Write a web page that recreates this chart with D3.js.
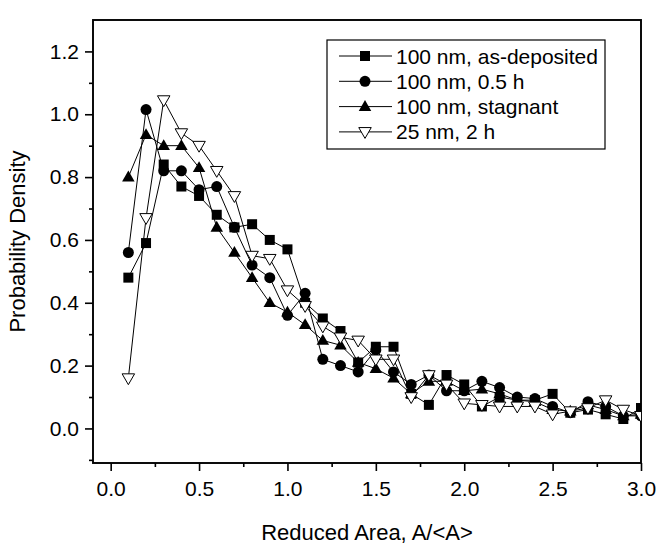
<!DOCTYPE html>
<html><head><meta charset="utf-8">
<script src="https://cdn.jsdelivr.net/npm/d3@7"></script>
<style>
html,body{margin:0;padding:0;background:#fff;}
svg{display:block;font-family:"Liberation Sans",Arial,Helvetica,sans-serif;}
</style></head>
<body>
<svg id="chart" width="659" height="544"></svg>
<script>
const xValues = [0.1,0.2,0.3,0.4,0.5,0.6,0.7,0.8,0.9,1.0,1.1,1.2,1.3,1.4,1.5,1.6,1.7,1.8,1.9,2.0,2.1,2.2,2.3,2.4,2.5,2.6,2.7,2.8,2.9,3.0];
const asDeposited = [0.48,0.59,0.84,0.77,0.74,0.68,0.64,0.65,0.60,0.57,0.40,0.35,0.31,0.21,0.26,0.26,0.11,0.075,0.17,0.14,0.07,0.10,0.09,0.09,0.11,0.05,0.06,0.045,0.03,0.065];
const halfHour = [0.56,1.015,0.82,0.82,0.76,0.77,0.64,0.52,0.48,0.36,0.43,0.22,0.20,0.18,0.25,0.18,0.14,0.17,0.12,0.12,0.15,0.13,0.10,0.095,0.07,0.05,0.085,0.07,0.04,0.04];
const stagnant = [0.80,0.935,0.90,0.90,0.83,0.64,0.56,0.48,0.40,0.37,0.33,0.28,0.265,0.21,0.19,0.16,0.11,0.15,0.15,0.12,0.125,0.11,0.09,0.085,0.06,0.055,0.075,0.06,0.04,0.045];
const nm25 = [0.16,0.67,1.045,0.94,0.90,0.82,0.74,0.55,0.54,0.44,0.39,0.325,0.29,0.28,0.22,0.22,0.10,0.17,0.14,0.08,0.075,0.07,0.07,0.07,0.045,0.055,0.065,0.09,0.06,0.04];
const seriesNames = ["100 nm, as-deposited","100 nm, 0.5 h","100 nm, stagnant","25 nm, 2 h"];
const seriesValues = [asDeposited, halfHour, stagnant, nm25];
const seriesMarkers = ["square","circle","triangle","triangleDown"];
const xTicks = [0,0.5,1.0,1.5,2.0,2.5,3.0];
const xMinorTicks = [0.25,0.75,1.25,1.75,2.25,2.75];
const yTicks = [0,0.2,0.4,0.6,0.8,1.0,1.2];
const yMinorTicks = [-0.1,0.1,0.3,0.5,0.7,0.9,1.1];

const svg = d3.select("#chart");
const L=93, R=641, T=20, B=463;
const x = d3.scaleLinear().domain([-0.1,3.0]).range([L,R]);
const y = d3.scaleLinear().domain([-0.11,1.3]).range([B,T]);
const FS = 21;

svg.append("defs").append("clipPath").attr("id","clip")
  .append("rect").attr("x",L).attr("y",T).attr("width",R-L).attr("height",B-T);

// axes
const xAxis = d3.axisBottom(x).tickValues(xTicks).tickSize(8).tickPadding(10).tickFormat(d3.format(".1f"));
svg.append("g").attr("transform",`translate(0,${B})`).call(xAxis);
const xMinor = d3.axisBottom(x).tickValues(xMinorTicks).tickSize(4).tickFormat("");
svg.append("g").attr("transform",`translate(0,${B})`).call(xMinor);
const yAxis = d3.axisLeft(y).tickValues(yTicks).tickSize(8).tickPadding(6).tickFormat(d3.format(".1f"));
svg.append("g").attr("transform",`translate(${L},0)`).call(yAxis);
const yMinor = d3.axisLeft(y).tickValues(yMinorTicks).tickSize(4).tickFormat("");
svg.append("g").attr("transform",`translate(${L},0)`).call(yMinor);
svg.selectAll(".domain").remove();
svg.selectAll(".tick line").attr("stroke","#000").attr("stroke-width",1.6);
svg.selectAll(".tick text").attr("font-size",FS).attr("fill","#000").attr("font-family","Liberation Sans, Arial, sans-serif");

// frame
svg.append("rect").attr("x",L).attr("y",T).attr("width",R-L).attr("height",B-T)
  .attr("fill","none").attr("stroke","#000").attr("stroke-width",1.9);

// marker drawing
function marker(g, type, cx, cy){
  if(type==="square"){
    g.append("rect").attr("x",cx-5).attr("y",cy-5).attr("width",10).attr("height",10).attr("fill","#000");
  } else if(type==="circle"){
    g.append("circle").attr("cx",cx).attr("cy",cy).attr("r",5.5).attr("fill","#000");
  } else if(type==="triangle"){
    const s=12.5, h=s*0.866;
    g.append("path").attr("d",`M${cx},${cy-h*0.6}L${cx+s/2},${cy+h*0.4}L${cx-s/2},${cy+h*0.4}Z`).attr("fill","#000");
  } else {
    const s=12.5, h=s*0.866;
    g.append("path").attr("d",`M${cx},${cy+h*0.6}L${cx+s/2},${cy-h*0.4}L${cx-s/2},${cy-h*0.4}Z`)
      .attr("fill","#fff").attr("stroke","#000").attr("stroke-width",1);
  }
}

const plot = svg.append("g").attr("clip-path","url(#clip)");
const line = d3.line().x((d,i)=>x(xValues[i])).y(d=>y(d));
seriesValues.forEach((vals,k)=>{
  plot.append("path").datum(vals).attr("d",line).attr("fill","none").attr("stroke","#000").attr("stroke-width",1);
});
seriesValues.forEach((vals,k)=>{
  const g = plot.append("g");
  vals.forEach((v,i)=>marker(g, seriesMarkers[k], x(xValues[i]), y(v)));
});

// legend
const lg = svg.append("g");
lg.append("rect").attr("x",327).attr("y",40).attr("width",278).attr("height",109)
  .attr("fill","#fff").attr("stroke","#000").attr("stroke-width",1.2);
seriesNames.forEach((name,k)=>{
  const cy = 56 + k*25.3;
  lg.append("line").attr("x1",339).attr("x2",392).attr("y1",cy).attr("y2",cy).attr("stroke","#000").attr("stroke-width",1);
  marker(lg, seriesMarkers[k], 365, cy);
  lg.append("text").attr("x",396).attr("y",cy+7.5).attr("font-size",FS).text(name);
});

// axis titles
svg.append("text").attr("x",(L+R)/2).attr("y",540).attr("text-anchor","middle").attr("font-size",22).text("Reduced Area, A/<A>");
svg.append("text").attr("transform",`translate(25,${(T+B)/2}) rotate(-90)`).attr("text-anchor","middle").attr("font-size",22).text("Probability Density");
</script>
</body></html>
